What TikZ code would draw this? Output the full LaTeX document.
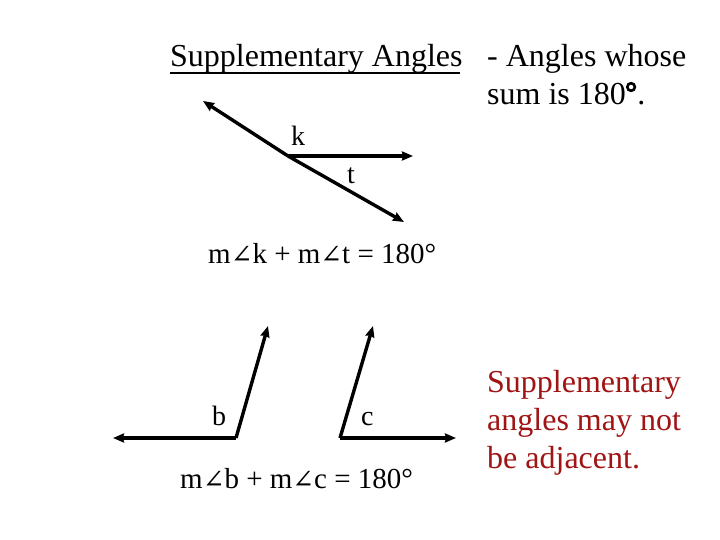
\documentclass[tikz,border=0pt]{standalone}
\usepackage{fontspec}
\setmainfont{Liberation Serif}
\newfontfamily\dvser{DejaVu Serif}
\usetikzlibrary{arrows.meta}
\definecolor{darkred}{RGB}{160,20,20}
\newcommand{\angsym}{{\dvser\fontsize{26}{30}\selectfont ∠}}
\begin{document}
\begin{tikzpicture}[x=1pt,y=-1pt,
  ray/.style={line width=3.4pt,-{Stealth[length=11pt,width=9pt,inset=1pt]}},
  big/.style={font=\fontsize{32}{38}\selectfont,inner sep=0pt,anchor=base west},
  lbl/.style={font=\fontsize{28}{32}\selectfont,inner sep=0pt,anchor=base west},
  eqn/.style={font=\fontsize{29}{33}\selectfont,inner sep=0pt,anchor=base west}]
\useasboundingbox[fill=white] (0,0) rectangle (720,540);
% title
\node[big] (title) at (170,67) {Supplementary Angles};
\draw[line width=1.8pt] (title.base west)++(0,6) coordinate (ul1) -- ++(290,0) coordinate (ul2);
\node[big] (def1) at (487,67) {- Angles whose};
\node[big] (def2) at (487,105) {sum is 180};
\draw[line width=2.6pt] ([xshift=5pt,yshift=18pt]def2.base east) coordinate (deg) circle[radius=3.8pt];
\node[big] (dot) at ([xshift=11pt]def2.base east) {.};
% top figure
\coordinate (v1) at (288,156);
\coordinate (kt) at (203,101);
\coordinate (kr) at (413,156);
\coordinate (tb) at (404,222);
\draw[ray] (v1) -- (kt);
\draw[ray] (v1) -- (kr);
\draw[ray] (v1) -- (tb);
\node[lbl] (k) at (291,146) {k};
\node[lbl] (t) at (347,184) {t};
\node[eqn] (eq1) at (208,263) {m\angsym k + m\angsym t = 180°};
% bottom figures
\coordinate (vb) at (236,438);
\coordinate (bl) at (113,438);
\coordinate (bu) at (268,326);
\draw[ray] (vb) -- (bl);
\draw[ray] (vb) -- (bu);
\node[lbl] (b) at (212,425) {b};
\coordinate (vc) at (340,438);
\coordinate (cu) at (373,326);
\coordinate (cr) at (456,438);
\draw[ray] (vc) -- (cu);
\draw[ray] (vc) -- (cr);
\node[lbl] (c) at (361,425) {c};
\node[eqn] (eq2) at (180,488) {m\angsym b + m\angsym c = 180°};
% note
\node[big,text=darkred] (n1) at (487,392) {Supplementary};
\node[big,text=darkred] (n2) at (487,430) {angles may not};
\node[big,text=darkred] (n3) at (487,468) {be adjacent.};
\end{tikzpicture}
\end{document}
